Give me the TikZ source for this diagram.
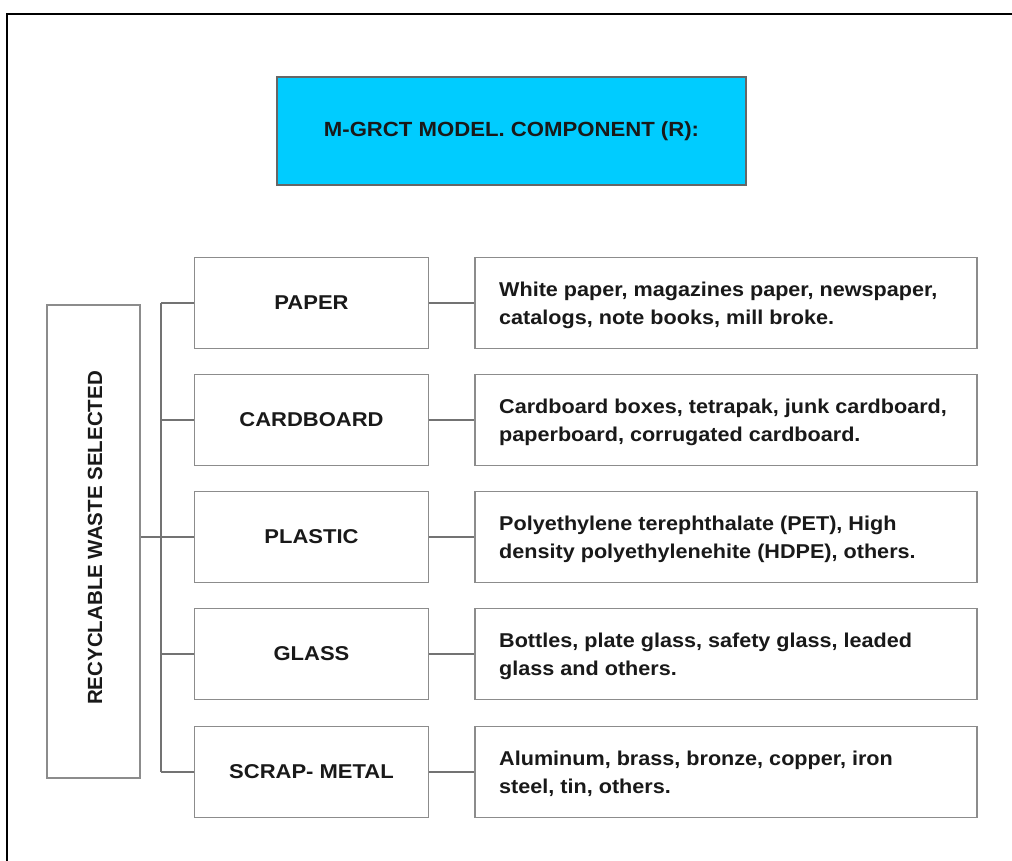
\documentclass[tikz,border=0pt]{standalone}
\usepackage{fontspec}
\setmainfont{Liberation Sans}
\newfontfamily\widefont[FakeStretch=1.08]{Liberation Sans}
\newfontfamily\widerfont[FakeStretch=1.1]{Liberation Sans}
\begin{document}
\begin{tikzpicture}[x=1pt,y=-1pt,
  frame/.style={draw=black!45,line width=1.6pt,fill=white},
  catbox/.style={frame,minimum width=234pt,minimum height=91pt,inner sep=0pt,
     font=\widerfont\bfseries\fontsize{20}{22}\selectfont,text=black!90},
  descbox/.style={frame,minimum width=502pt,minimum height=91pt,inner sep=0pt},
  desctext/.style={anchor=west,align=left,inner sep=0pt,
     font=\widefont\bfseries\fontsize{20}{28}\selectfont,text=black!90},
  conn/.style={draw=black!55,line width=1.3pt}]
\useasboundingbox (0,0) rectangle (1012,861);
\begin{scope}
\clip (0,0) rectangle (1012,861);
\draw[line width=2.2pt,black] (7,14) rectangle (1030,880);
\end{scope}
% title
\node[draw=black!60,line width=1.2pt,fill={rgb,255:red,0;green,204;blue,255},
  minimum width=469pt,minimum height=108pt,inner sep=0pt,
  font=\widefont\bfseries\fontsize{20.5}{22}\selectfont,text=black!90] (title) at (511.5,131) {M-GRCT MODEL. COMPONENT (R):};
% left box
\node[frame,minimum width=93pt,minimum height=473pt,inner sep=0pt] (rws) at (93.5,541.5) {};
\node[rotate=90,font=\bfseries\fontsize{20.5}{22}\selectfont,text=black!90] (rwst) at (95,538) {RECYCLABLE WASTE SELECTED};
% categories
\foreach \n/\y/\c/\la/\lb in {
  p/303/PAPER/{White paper, magazines paper, newspaper,}/{catalogs, note books, mill broke.},
  c/420/CARDBOARD/{Cardboard boxes, tetrapak, junk cardboard,}/{paperboard, corrugated cardboard.},
  l/537/PLASTIC/{Polyethylene terephthalate (PET), High}/{density polyethylenehite (HDPE), others.},
  g/654/GLASS/{Bottles, plate glass, safety glass, leaded}/{glass and others.},
  s/772/SCRAP- METAL/{Aluminum, brass, bronze, copper, iron}/{steel, tin, others.}}{
  \node[catbox] (cat\n) at (311.5,\y) {\c};
  \node[descbox] (desc\n) at (726,\y) {};
  \node[desctext] (txt\n) at (499,\y+2) {\la\\\lb};
  \draw[conn] (cat\n.east) -- (desc\n.west);
  \coordinate (bus\n) at (161,\y);
  \draw[conn] (bus\n) -- (cat\n.west);
}
\draw[conn] (busp) -- (buss);
\draw[conn] (rws.east |- busl) -- (busl);
\end{tikzpicture}
\end{document}
